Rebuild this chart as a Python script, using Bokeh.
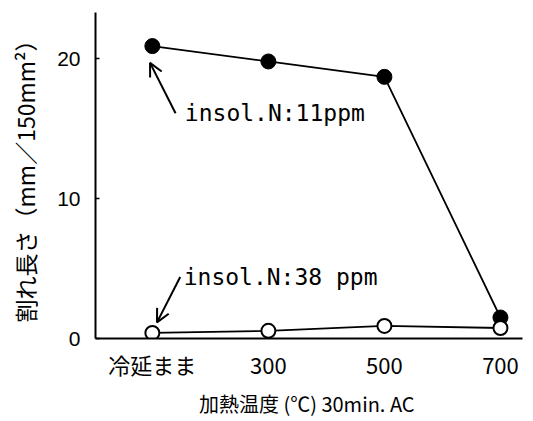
from bokeh.plotting import figure
from bokeh.models import Range1d, FixedTicker, Arrow, OpenHead, ColumnDataSource
from bokeh.core.properties import value
from bokeh.embed import file_html
from bokeh.resources import INLINE

# ---- data ----
categories = ["冷延まま", "300", "500", "700"]
x_index = [0, 1, 2, 3]
insol_11ppm = [20.9, 19.8, 18.7, 1.5]
insol_38ppm = [0.4, 0.55, 0.9, 0.75]
y_ticks = [0, 10, 20]
label_11 = "insol.N:11ppm"
label_38 = "insol.N:38 ppm"

p = figure(frame_width=427, frame_height=326, output_backend="svg", toolbar_location=None,
           x_range=Range1d(-0.49, 3.19), y_range=Range1d(0, 23.3),
           min_border_left=95, min_border_right=11, min_border_top=12, min_border_bottom=83)
p.outline_line_color = None
p.grid.visible = False
p.background_fill_color = "white"

# axes
p.xaxis.ticker = FixedTicker(ticks=x_index)
p.xaxis.major_label_overrides = {i: c for i, c in zip(x_index, categories)}
p.yaxis.ticker = FixedTicker(ticks=y_ticks)
for ax in (p.xaxis[0], p.yaxis[0]):
    ax.axis_line_width = 2
    ax.axis_line_color = "black"
    ax.minor_tick_line_color = None
    ax.major_label_text_color = "black"
    ax.axis_label_text_color = "black"
    ax.axis_label_text_font_style = "normal"

p.xaxis.major_tick_in = 0
p.xaxis.major_tick_out = 0
p.xaxis.major_label_standoff = 9
p.xaxis.major_label_text_font = "Noto Sans CJK JP"
p.xaxis.major_label_text_font_size = "22px"
p.xaxis.axis_label = "加熱温度 (℃)  30min. AC"
p.xaxis.axis_label_text_font = "Noto Sans CJK JP"
p.xaxis.axis_label_text_font_size = "20px"
p.xaxis.axis_label_standoff = 6

p.yaxis.major_tick_in = 4
p.yaxis.major_tick_out = 0
p.yaxis.major_tick_line_width = 1.5
p.yaxis.major_label_standoff = 15
p.yaxis.major_label_text_font = "Liberation Sans"
p.yaxis.major_label_text_font_size = "21px"
p.yaxis.axis_label = "割れ長さ（mm／150mm²）"
p.yaxis.axis_label_text_font = "Noto Sans CJK JP"
p.yaxis.axis_label_text_font_size = "23px"
p.yaxis.axis_label_standoff = 12

# series
p.line(x_index, insol_11ppm, line_color="black", line_width=1.8)
p.scatter(x_index, insol_11ppm, size=15, marker="circle", fill_color="black", line_color="black")
p.line(x_index, insol_38ppm, line_color="black", line_width=1.8)
p.scatter(x_index, insol_38ppm, size=14, marker="circle", fill_color="white", line_color="black", line_width=2)

# annotations
src = ColumnDataSource(dict(x=[0.28, 0.27], y=[16.1, 4.4], t=[label_11, label_38]))
p.text(x="x", y="y", text="t", source=src, text_font=value("DejaVu Sans Mono"),
       text_font_size="23px", text_baseline="middle", text_align="left", text_color="black")

p.add_layout(Arrow(end=OpenHead(size=13, line_width=2, line_color="black"),
                   x_start=0.2, y_start=16.1, x_end=-0.02, y_end=19.7,
                   line_width=2, line_color="black"))
p.add_layout(Arrow(end=OpenHead(size=13, line_width=2, line_color="black"),
                   x_start=0.24, y_start=4.4, x_end=0.04, y_end=1.15,
                   line_width=2, line_color="black"))

open("out.html", "w").write(file_html(p, INLINE))
